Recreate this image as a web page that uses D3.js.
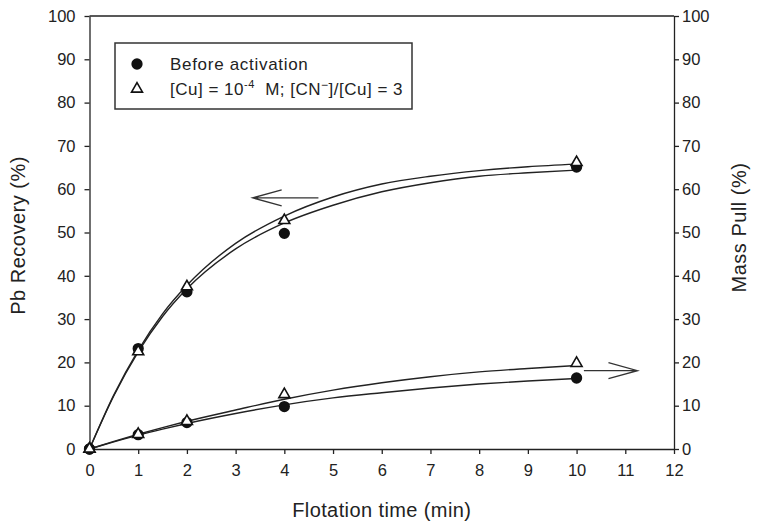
<!DOCTYPE html>
<meta charset="utf-8">
<style>
body { margin: 0; background: #fff; }
text { font-family: "Liberation Sans", Arial, sans-serif; fill: #222; }
.axis path, .axis line { stroke: #222; stroke-width: 1.3px; }
.axis text { font-size: 16.5px; fill: #222; }
</style>
<html>
<body>
<div id="my_dataviz"></div>
<script src="https://d3js.org/d3.v7.min.js"></script>
<script>

// measured points
var times = [0, 1, 2, 4, 10];
var pbBefore = [0, 23.2, 36.3, 49.8, 65.1];
var pbActivated = [0, 22.5, 37.5, 52.8, 66.2];
var massBefore = [0, 3.3, 6.1, 9.8, 16.4];
var massActivated = [0, 3.4, 6.4, 12.6, 19.8];

// fitted curves
var fitTimes = [0, 0.5, 1, 1.5, 2, 3, 4, 5, 6, 7, 8, 9, 10];
var pbBeforeFit = [0, 12.3, 22.4, 30.6, 37.0, 46.2, 52.2, 56.3, 59.4, 61.5, 63.0, 63.8, 64.4];
var pbActivatedFit = [0, 12.5, 22.8, 31.2, 37.8, 47.5, 53.8, 58.2, 61.2, 63.0, 64.3, 65.2, 65.8];
var massBeforeFit = [0, 1.65, 3.2, 4.6, 5.9, 8.2, 10.2, 11.8, 13.0, 14.1, 15.0, 15.7, 16.3];
var massActivatedFit = [0, 1.75, 3.4, 4.95, 6.4, 9.0, 11.5, 13.6, 15.3, 16.7, 17.8, 18.6, 19.3];

var xTicks = [0, 1, 2, 3, 4, 5, 6, 7, 8, 9, 10, 11, 12];
var yTicks = [0, 10, 20, 30, 40, 50, 60, 70, 80, 90, 100];

// arrows: [fromTime, toTime, level]
var leftArrow = [4.7, 3.35, 58];
var rightArrow = [10.15, 11.25, 18.1];

var W = 757, H = 527;
var margin = {top: 16, right: 83, bottom: 78, left: 89.5};

var svg = d3.select("#my_dataviz")
  .append("svg")
    .attr("width", W)
    .attr("height", H);

var x = d3.scaleLinear().domain([0, 12]).range([margin.left, W - margin.right]);
var y = d3.scaleLinear().domain([0, 100]).range([H - margin.bottom, margin.top]);

// axes
svg.append("g")
  .attr("class", "axis")
  .attr("transform", "translate(0," + y(0) + ")")
  .call(d3.axisBottom(x).tickValues(xTicks).tickSize(5).tickSizeOuter(0).tickPadding(10));

svg.append("g")
  .attr("class", "axis")
  .attr("transform", "translate(" + x(0) + ",0)")
  .call(d3.axisLeft(y).tickValues(yTicks).tickSize(5).tickSizeOuter(0).tickPadding(9));

svg.append("g")
  .attr("class", "axis")
  .attr("transform", "translate(" + x(12) + ",0)")
  .call(d3.axisRight(y).tickValues(yTicks).tickSize(5).tickSizeOuter(0).tickPadding(3));

// top frame line
svg.append("line")
  .attr("x1", x(0)).attr("x2", x(12))
  .attr("y1", y(100)).attr("y2", y(100))
  .attr("stroke", "#222").attr("stroke-width", 1.3);

// axis titles
svg.append("text")
  .attr("transform", "translate(" + (x(6)) + "," + (H - 10) + ")")
  .attr("text-anchor", "middle")
  .style("font-size", "20px")
  .style("letter-spacing", "0.4px")
  .text("Flotation time (min)");

svg.append("text")
  .attr("transform", "translate(25," + (y(50) + 3) + ") rotate(-90)")
  .attr("text-anchor", "middle")
  .style("font-size", "20px")
  .style("letter-spacing", "0.5px")
  .text("Pb Recovery (%)");

svg.append("text")
  .attr("transform", "translate(" + (W - 11) + "," + (y(50) - 5) + ") rotate(-90)")
  .attr("text-anchor", "middle")
  .style("font-size", "20px")
  .style("letter-spacing", "0.5px")
  .text("Mass Pull (%)");

// fitted curves
var line = d3.line()
  .x(function(d) { return x(d[0]); })
  .y(function(d) { return y(d[1]); })
  .curve(d3.curveMonotoneX);

[pbBeforeFit, pbActivatedFit, massBeforeFit, massActivatedFit].forEach(function(s) {
  svg.append("path")
    .datum(fitTimes.map(function(t, i) { return [t, s[i]]; }))
    .attr("d", line)
    .attr("fill", "none")
    .attr("stroke", "#222")
    .attr("stroke-width", 1.4);
});

// points: circles first, triangles on top
var circle = d3.symbol().type(d3.symbolCircle).size(100);
var tri = d3.symbol().type(d3.symbolTriangle).size(52);

[pbBefore, massBefore].forEach(function(s) {
  svg.selectAll(null)
    .data(times.map(function(t, i) { return [t, s[i]]; }))
    .enter()
    .append("path")
      .attr("d", circle)
      .attr("transform", function(d) { return "translate(" + x(d[0]) + "," + y(d[1]) + ")"; })
      .attr("fill", "#111");
});

[pbActivated, massActivated].forEach(function(s) {
  svg.selectAll(null)
    .data(times.map(function(t, i) { return [t, s[i]]; }))
    .enter()
    .append("path")
      .attr("d", tri)
      .attr("transform", function(d) { return "translate(" + x(d[0]) + "," + y(d[1]) + ")"; })
      .attr("fill", "#fff")
      .attr("stroke", "#111")
      .attr("stroke-width", 1.6);
});

// arrows
function arrow(a) {
  var x0 = x(a[0]), x1 = x(a[1]), yy = y(a[2]);
  var dir = x1 > x0 ? -1 : 1;
  svg.append("path")
    .attr("d", "M" + x0 + "," + yy + "L" + x1 + "," + yy +
               "M" + (x1 + dir * 29) + "," + (yy - 8) + "L" + x1 + "," + yy + "L" + (x1 + dir * 29) + "," + (yy + 8))
    .attr("fill", "none")
    .attr("stroke", "#333")
    .attr("stroke-width", 1.3);
}
arrow(leftArrow);
arrow(rightArrow);

// legend
var lg = svg.append("g").attr("transform", "translate(115,43)");
lg.append("rect")
  .attr("width", 297).attr("height", 66)
  .attr("fill", "#fff")
  .attr("stroke", "#333").attr("stroke-width", 1.5);
lg.append("path").attr("d", circle).attr("transform", "translate(22,21)").attr("fill", "#111");
lg.append("path").attr("d", tri).attr("transform", "translate(22,46)")
  .attr("fill", "#fff").attr("stroke", "#111").attr("stroke-width", 1.6);
lg.append("text").attr("x", 55).attr("y", 27)
  .style("font-size", "17px").style("letter-spacing", "0.7px")
  .text("Before activation");

var t2 = lg.append("text").attr("x", 55).attr("y", 52)
  .style("font-size", "17px").style("letter-spacing", "0.5px");
t2.append("tspan").text("[Cu] = 10");
t2.append("tspan").attr("dy", -7).style("font-size", "11px").text("-4");
t2.append("tspan").attr("dy", 7).text("\u00a0 M; [CN");
t2.append("tspan").attr("dy", -6).style("font-size", "12px").text("\u2212");
t2.append("tspan").attr("dy", 6).text("]/[Cu] = 3");

</script>
</body>
</html>
